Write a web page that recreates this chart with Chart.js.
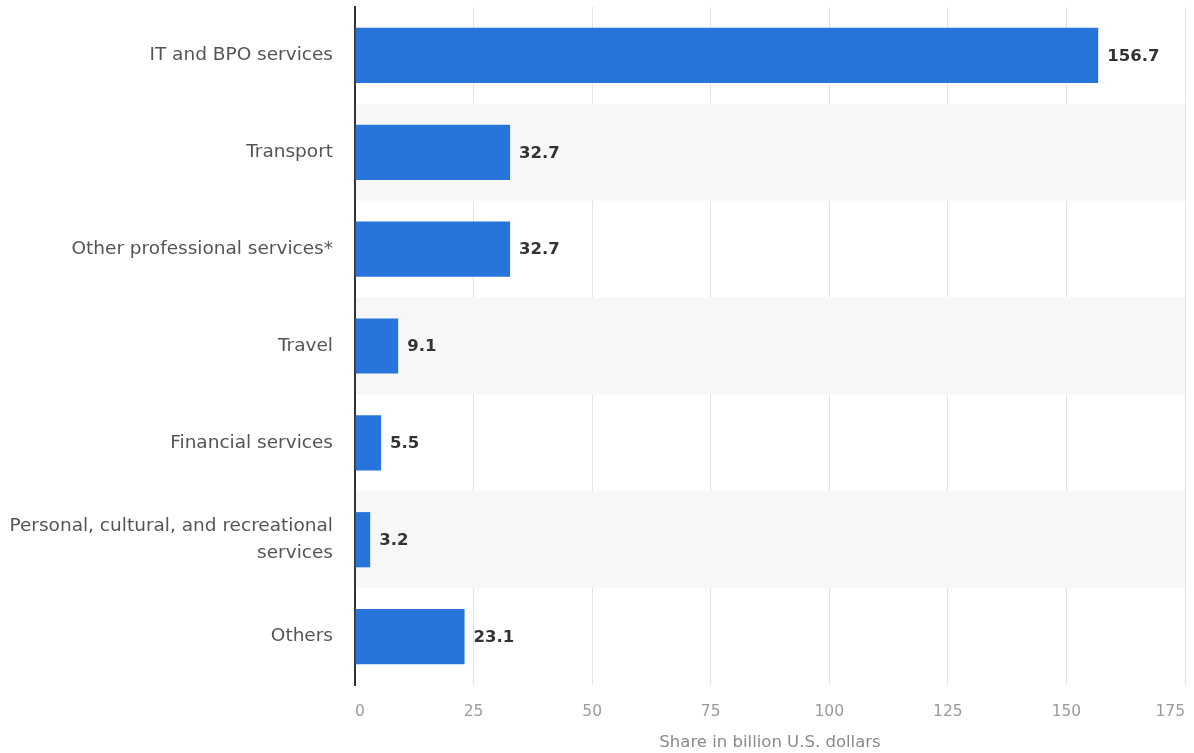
<!DOCTYPE html>
<html>
<head>
<meta charset="utf-8">
<script src="https://cdn.jsdelivr.net/npm/chart.js@4/dist/chart.umd.min.js"></script>
<style>
  body { margin: 0; background: #fff; }
  #wrap { width: 1194px; height: 753px; position: relative; }
</style>
</head>
<body>
<div id="wrap"><canvas id="servicesChart"></canvas></div>
<script>
// Categories and values (billion U.S. dollars)
const categories = [
    'IT and BPO services',
    'Transport',
    'Other professional services*',
    'Travel',
    'Financial services',
    ['Personal, cultural, and recreational', 'services'],
    'Others'
];
const shareValues = [156.7, 32.7, 32.7, 9.1, 5.5, 3.2, 23.1];
const xTicks = [0, 25, 50, 75, 100, 125, 150, 175];

const fontFamily = '"DejaVu Sans", sans-serif';

// Alternating light row bands (kept clear of the axis line)
const rowBands = {
    id: 'rowBands',
    beforeDatasetsDraw(chart) {
        const { ctx, chartArea, scales } = chart;
        const y = scales.y;
        ctx.save();
        ctx.fillStyle = '#f7f7f7';
        categories.forEach((c, i) => {
            if (i % 2 === 1) {
                const top = y.getPixelForValue(i - 0.5);
                const bottom = y.getPixelForValue(i + 0.5);
                ctx.fillRect(chartArea.left + 1, top, chartArea.right - chartArea.left - 1, bottom - top);
            }
        });
        ctx.restore();
    }
};

// Value labels to the right of each bar
const valueLabels = {
    id: 'valueLabels',
    afterDatasetsDraw(chart) {
        const { ctx } = chart;
        const meta = chart.getDatasetMeta(0);
        ctx.save();
        ctx.font = 'bold 16.5px ' + fontFamily;
        ctx.fillStyle = '#333333';
        ctx.textAlign = 'left';
        ctx.textBaseline = 'middle';
        meta.data.forEach((bar, i) => {
            ctx.fillText(shareValues[i].toFixed(1), bar.x + 9, bar.y + 1);
        });
        ctx.restore();
    }
};

// drop the automatic label padding so the plot area lands where it should
function noPadding(scale) {
    scale.paddingTop = 0;
    scale.paddingBottom = 0;
    scale.paddingLeft = 0;
    scale.paddingRight = 0;
}

const ctx = document.getElementById('servicesChart').getContext('2d');

new Chart(ctx, {
    type: 'bar',
    data: {
        labels: categories,
        datasets: [{
            data: shareValues,
            backgroundColor: '#2775db',
            borderWidth: 0,
            barPercentage: 0.57,
            categoryPercentage: 1
        }]
    },
    options: {
        indexAxis: 'y',
        responsive: true,
        maintainAspectRatio: false,
        animation: false,
        layout: { padding: { top: 7, right: 9, left: 0, bottom: 0 } },
        scales: {
            x: {
                min: 0,
                max: 175,
                afterBuildTicks(scale) {
                    scale.ticks = xTicks.map(v => ({ value: v }));
                },
                afterFit(scale) {
                    scale.height = 68;
                    noPadding(scale);
                },
                grid: {
                    color: '#e4e4e4',
                    lineWidth: 1,
                    drawTicks: false
                },
                border: { display: false },
                ticks: {
                    color: '#9a9a9a',
                    font: { family: fontFamily, size: 15.5 },
                    padding: 18,
                    align: 'inner',
                    maxRotation: 0
                },
                title: {
                    display: true,
                    text: 'Share in billion U.S. dollars',
                    color: '#8a8a8a',
                    font: { family: fontFamily, size: 16.5 },
                    padding: { top: 6, bottom: 0 }
                }
            },
            y: {
                afterFit(scale) {
                    scale.width = 355;
                    noPadding(scale);
                },
                grid: { display: false, drawTicks: false },
                border: { display: true, color: '#333333', width: 2 },
                ticks: {
                    color: '#555555',
                    font: { family: fontFamily, size: 18.5, lineHeight: 1.45 },
                    padding: 22
                }
            }
        },
        plugins: {
            legend: { display: false },
            tooltip: { enabled: false }
        }
    },
    plugins: [rowBands, valueLabels]
});
</script>
</body>
</html>
